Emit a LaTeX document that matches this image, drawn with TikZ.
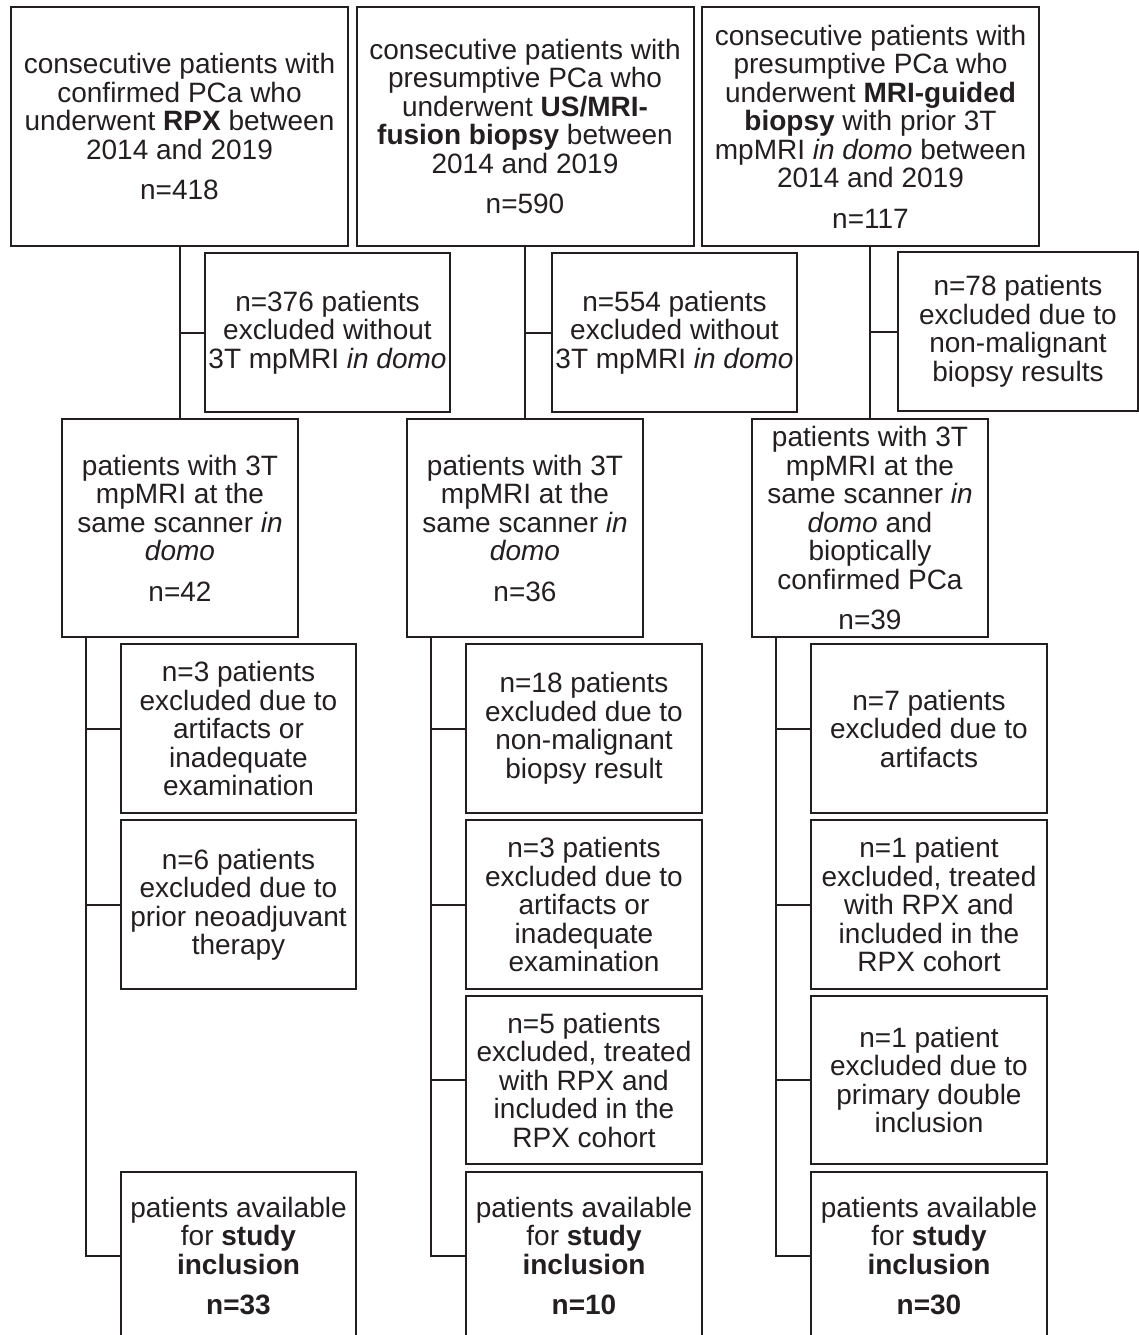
\documentclass[tikz,border=0pt]{standalone}
\usepackage{fontspec}
\setmainfont{Liberation Sans}
\definecolor{flowink}{RGB}{35,31,32}

\begin{document}
\begin{tikzpicture}[x=1pt,y=-1pt]
\tikzset{
  flowbox/.style={rectangle,draw=flowink,line width=2pt,inner sep=1pt,align=center,text=flowink,
    font=\fontsize{28}{28.5}\selectfont},
  topbox/.style={flowbox,minimum width=337pt,minimum height=239pt},
  exbox/.style={flowbox,minimum width=245pt,minimum height=159pt},
  midbox/.style={flowbox,minimum width=236pt,minimum height=218pt},
  stepbox/.style={flowbox,minimum width=236pt,minimum height=168pt},
  flowedge/.style={draw=flowink,line width=2pt,line cap=rect,line join=miter}
}
\clip (0,0) rectangle (1139,1335);
% cohort sources
\node[topbox] (n_top_a) at (179.5,126.5) {consecutive patients with\\confirmed PCa who\\underwent \textbf{RPX} between\\2014 and 2019\\[12pt]n=418};
\node[topbox] (n_top_b) at (525.0,126.5) {consecutive patients with\\presumptive PCa who\\underwent \textbf{US/MRI-}\\\textbf{fusion biopsy} between\\2014 and 2019\\[12pt]n=590};
\node[topbox] (n_top_c) at (870.5,126.5) {consecutive patients with\\presumptive PCa who\\underwent \textbf{MRI-guided}\\\textbf{biopsy} with prior 3T\\mpMRI \textit{in domo} between\\2014 and 2019\\[12pt]n=117};
% first exclusions
\node[exbox] (n_ex_a) at (327.5,332.5) {n=376 patients\\excluded without\\3T mpMRI \textit{in domo}};
\node[exbox] (n_ex_b) at (674.5,332.5) {n=554 patients\\excluded without\\3T mpMRI \textit{in domo}};
\node[exbox,minimum width=240pt] (n_ex_c) at (1018.0,331.5) {n=78 patients\\excluded due to\\non-malignant\\biopsy results};
% scanned cohorts
\node[midbox] (n_mid_a) at (180.0,528.0) {patients with 3T\\mpMRI at the\\same scanner \textit{in}\\\textit{domo}\\[12pt]n=42};
\node[midbox] (n_mid_b) at (525.0,528.0) {patients with 3T\\mpMRI at the\\same scanner \textit{in}\\\textit{domo}\\[12pt]n=36};
\node[midbox] (n_mid_c) at (870.0,528.0) {patients with 3T\\mpMRI at the\\same scanner \textit{in}\\\textit{domo} and\\bioptically\\confirmed PCa\\[12pt]n=39};
% column a
\node[stepbox,minimum width=235pt,minimum height=169pt] (n_a_1) at (238.5,728.5) {n=3 patients\\excluded due to\\artifacts or\\inadequate\\examination};
\node[stepbox,minimum width=235pt,minimum height=169pt] (n_a_2) at (238.5,904.5) {n=6 patients\\excluded due to\\prior neoadjuvant\\therapy};
\node[stepbox,minimum width=235pt] (n_a_end) at (238.5,1256.0) {patients available\\for \textbf{study}\\\textbf{inclusion}\\[12pt]\textbf{n=33}};
% column b
\node[stepbox,minimum height=169pt] (n_b_1) at (584.0,728.5) {n=18 patients\\excluded due to\\non-malignant\\biopsy result};
\node[stepbox,minimum height=169pt] (n_b_2) at (584.0,904.5) {n=3 patients\\excluded due to\\artifacts or\\inadequate\\examination};
\node[stepbox] (n_b_3) at (584.0,1080.0) {n=5 patients\\excluded, treated\\with RPX and\\included in the\\RPX cohort};
\node[stepbox] (n_b_end) at (584.0,1256.0) {patients available\\for \textbf{study}\\\textbf{inclusion}\\[12pt]\textbf{n=10}};
% column c
\node[stepbox,minimum height=169pt] (n_c_1) at (929.0,728.5) {n=7 patients\\excluded due to\\artifacts};
\node[stepbox,minimum height=169pt] (n_c_2) at (929.0,904.5) {n=1 patient\\excluded, treated\\with RPX and\\included in the\\RPX cohort};
\node[stepbox] (n_c_3) at (929.0,1080.0) {n=1 patient\\excluded due to\\primary double\\inclusion};
\node[stepbox] (n_c_end) at (929.0,1256.0) {patients available\\for \textbf{study}\\\textbf{inclusion}\\[12pt]\textbf{n=30}};
\coordinate (sp_a) at (86,637);
\coordinate (sp_b) at (431,637);
\coordinate (sp_c) at (776,637);
% trunk connectors
\draw[flowedge] (n_mid_a.north |- n_top_a.south) -- (n_mid_a.north);
\draw[flowedge] (n_mid_a.north |- n_ex_a.west) -- (n_ex_a.west);
\draw[flowedge] (n_mid_b.north |- n_top_b.south) -- (n_mid_b.north);
\draw[flowedge] (n_mid_b.north |- n_ex_b.west) -- (n_ex_b.west);
\draw[flowedge] (n_mid_c.north |- n_top_c.south) -- (n_mid_c.north);
\draw[flowedge] (n_mid_c.north |- n_ex_c.west) -- (n_ex_c.west);
% column connectors
\draw[flowedge] (sp_a) -- (sp_a |- n_a_end.west) -- (n_a_end.west);
\draw[flowedge] (sp_a |- n_a_1.west) -- (n_a_1.west);
\draw[flowedge] (sp_a |- n_a_2.west) -- (n_a_2.west);
\draw[flowedge] (sp_b) -- (sp_b |- n_b_end.west) -- (n_b_end.west);
\draw[flowedge] (sp_b |- n_b_1.west) -- (n_b_1.west);
\draw[flowedge] (sp_b |- n_b_2.west) -- (n_b_2.west);
\draw[flowedge] (sp_b |- n_b_3.west) -- (n_b_3.west);
\draw[flowedge] (sp_c) -- (sp_c |- n_c_end.west) -- (n_c_end.west);
\draw[flowedge] (sp_c |- n_c_1.west) -- (n_c_1.west);
\draw[flowedge] (sp_c |- n_c_2.west) -- (n_c_2.west);
\draw[flowedge] (sp_c |- n_c_3.west) -- (n_c_3.west);
\end{tikzpicture}
\end{document}
